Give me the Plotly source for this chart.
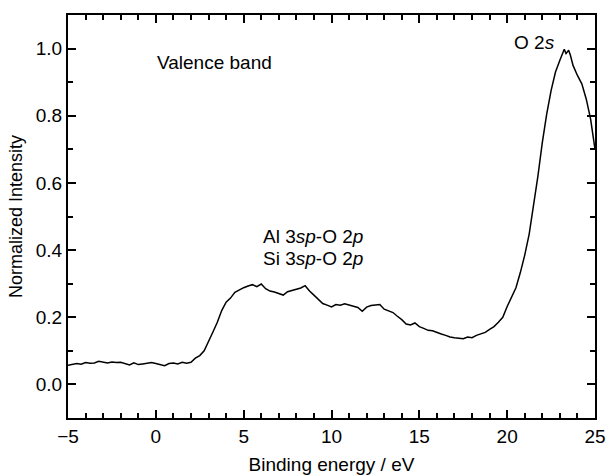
import plotly.graph_objects as go

energy = [-5.00, -4.75, -4.50, -4.25, -4.00, -3.75, -3.50, -3.25, -3.00, -2.75,
          -2.50, -2.25, -2.00, -1.75, -1.50, -1.25, -1.00, -0.75, -0.50, -0.25,
          0.00, 0.25, 0.50, 0.75, 1.00, 1.25, 1.50, 1.75, 2.00, 2.25,
          2.50, 2.75, 3.00, 3.25, 3.50, 3.75, 4.00, 4.25, 4.50, 4.75,
          5.00, 5.25, 5.50, 5.75, 6.00, 6.25, 6.50, 6.75, 7.00, 7.25,
          7.50, 7.75, 8.00, 8.25, 8.50, 8.75, 9.00, 9.25, 9.50, 9.75,
          10.00, 10.25, 10.50, 10.75, 11.00, 11.25, 11.50, 11.75, 12.00, 12.25,
          12.50, 12.75, 13.00, 13.25, 13.50, 13.75, 14.00, 14.25, 14.50, 14.75,
          15.00, 15.25, 15.50, 15.75, 16.00, 16.25, 16.50, 16.75, 17.00, 17.25,
          17.50, 17.75, 18.00, 18.25, 18.50, 18.75, 19.00, 19.25, 19.50, 19.75,
          20.00, 20.25, 20.50, 20.75, 21.00, 21.25, 21.50, 21.75, 22.00, 22.25,
          22.50, 22.75, 23.00, 23.15, 23.25, 23.35, 23.50, 23.60, 23.75, 24.00,
          24.25, 24.50, 24.75, 25.00]

intensity = [0.057, 0.060, 0.062, 0.060, 0.065, 0.063, 0.064, 0.069, 0.066, 0.064,
             0.067, 0.065, 0.066, 0.062, 0.058, 0.064, 0.059, 0.061, 0.062, 0.065,
             0.062, 0.058, 0.056, 0.062, 0.064, 0.061, 0.066, 0.063, 0.066, 0.078,
             0.086, 0.100, 0.126, 0.156, 0.185, 0.220, 0.245, 0.257, 0.274, 0.282,
             0.288, 0.293, 0.297, 0.291, 0.299, 0.285, 0.278, 0.275, 0.271, 0.266,
             0.276, 0.279, 0.283, 0.287, 0.294, 0.278, 0.266, 0.252, 0.241, 0.236,
             0.231, 0.238, 0.236, 0.240, 0.236, 0.233, 0.229, 0.218, 0.230, 0.235,
             0.236, 0.238, 0.224, 0.220, 0.214, 0.203, 0.193, 0.180, 0.177, 0.183,
             0.172, 0.167, 0.161, 0.160, 0.154, 0.150, 0.146, 0.141, 0.139, 0.137,
             0.136, 0.141, 0.139, 0.146, 0.150, 0.155, 0.164, 0.172, 0.185, 0.200,
             0.232, 0.260, 0.288, 0.333, 0.385, 0.447, 0.530, 0.620, 0.720, 0.805,
             0.875, 0.930, 0.965, 0.985, 0.998, 0.985, 0.995, 0.980, 0.950, 0.920,
             0.895, 0.850, 0.790, 0.700]

x_range = [-5, 25]
y_range = [-0.1, 1.1]

FONT = "Arial, Liberation Sans, Helvetica, sans-serif"

fig = go.Figure()
fig.add_trace(go.Scatter(x=energy, y=intensity, mode="lines",
                         line=dict(color="black", width=1.5), showlegend=False))

axis_common = dict(showline=True, linecolor="black", linewidth=2, mirror="allticks",
                   ticks="inside", ticklen=8, tickwidth=2, tickcolor="black",
                   showgrid=False, zeroline=False, automargin=False,
                   tickfont=dict(family=FONT, size=19, color="black"))

fig.update_xaxes(range=x_range, tickmode="linear", tick0=-5, dtick=5,
                 minor=dict(ticks="inside", ticklen=5, tickwidth=2, dtick=1,
                            tickcolor="black", showgrid=False),
                 title=dict(text="Binding energy / eV", font=dict(family=FONT, size=19, color="black"),
                            standoff=12),
                 **axis_common)
fig.update_yaxes(range=y_range, tickmode="linear", tick0=0, dtick=0.2, tickformat=".1f",
                 minor=dict(ticks="inside", ticklen=5, tickwidth=2, dtick=0.1,
                            tickcolor="black", showgrid=False),
                 title=dict(text="Normalized Intensity", font=dict(family=FONT, size=18, color="black"),
                            standoff=8),
                 **axis_common)

ann_font = dict(family=FONT, size=19, color="black")
fig.add_annotation(x=-0.05, y=0.958, text="Valence band", showarrow=False,
                   xanchor="left", yanchor="middle", font=ann_font)
fig.add_annotation(x=8.94, y=0.439, text="Al 3<i>sp</i>-O 2<i>p</i>", showarrow=False,
                   xanchor="center", yanchor="middle", font=ann_font)
fig.add_annotation(x=8.94, y=0.376, text="Si 3<i>sp</i>-O 2<i>p</i>", showarrow=False,
                   xanchor="center", yanchor="middle", font=ann_font)
fig.add_annotation(x=21.55, y=1.018, text="O 2<i>s</i>", showarrow=False,
                   xanchor="center", yanchor="middle", font=ann_font)

fig.update_layout(width=609, height=475, plot_bgcolor="white", paper_bgcolor="white",
                  margin=dict(l=68, r=14, t=15, b=57),
                  font=dict(family=FONT, size=19, color="black"))

# remove the page's default body margin so the 609x475 figure fills the window exactly
fig.write_html("out.html", config={"displayModeBar": False},
               post_script="document.body.style.margin='0';document.body.style.overflow='hidden';")
